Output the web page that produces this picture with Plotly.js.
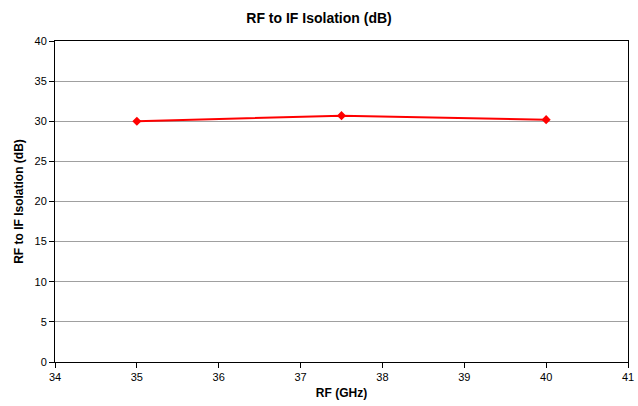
<!DOCTYPE html>
<html>
<head>
<meta charset="utf-8">
<script src="https://cdn.plot.ly/plotly-3.0.1.min.js"></script>
<style>html,body{margin:0;padding:0;background:#fff;}#chart{width:638px;height:406px;}</style>
</head>
<body>
<div id="chart"></div>
<script>
const rfGHz = [35, 37.5, 40];
const isolationDb = [30.0, 30.7, 30.2];
const xTicks = [34, 35, 36, 37, 38, 39, 40, 41];
const yTicks = [0, 5, 10, 15, 20, 25, 30, 35, 40];

const trace = {
  x: rfGHz,
  y: isolationDb,
  type: 'scatter',
  mode: 'lines+markers',
  line: {color: '#ff0000', width: 2},
  marker: {symbol: 'diamond', size: 7, color: '#ff0000'},
  showlegend: false,
  hoverinfo: 'x+y'
};

const layout = {
  width: 638,
  height: 406,
  margin: {l: 55, r: 10, t: 41, b: 44},
  paper_bgcolor: '#ffffff',
  plot_bgcolor: '#ffffff',
  font: {family: 'Liberation Sans, Arial, sans-serif', size: 11, color: '#000'},
  title: {text: '<b>RF to IF Isolation (dB)</b>', font: {size: 14, color: '#000'}, x: 0.5, xanchor: 'center', y: 0.955, yanchor: 'middle'},
  xaxis: {
    range: [34, 41],
    tickvals: xTicks,
    ticktext: xTicks.map(String),
    ticks: 'outside', ticklen: 5, tickcolor: '#000',
    showgrid: false, zeroline: false,
    showline: true, linecolor: '#000', linewidth: 1, mirror: true,
    tickfont: {size: 11},
    title: {text: '<b>RF (GHz)</b>', font: {size: 12}, standoff: 6}
  },
  yaxis: {
    range: [0, 40],
    tickvals: yTicks,
    ticktext: yTicks.map(String),
    ticks: 'outside', ticklen: 5, tickcolor: '#000',
    showgrid: true, gridcolor: '#a0a0a0', gridwidth: 1, zeroline: false,
    showline: true, linecolor: '#000', linewidth: 1, mirror: true,
    tickfont: {size: 11},
    title: {text: '<b>RF to IF Isolation (dB)</b>', font: {size: 12}, standoff: 8}
  }
};

Plotly.newPlot('chart', [trace], layout, {displayModeBar: false, staticPlot: true});
</script>
</body>
</html>
